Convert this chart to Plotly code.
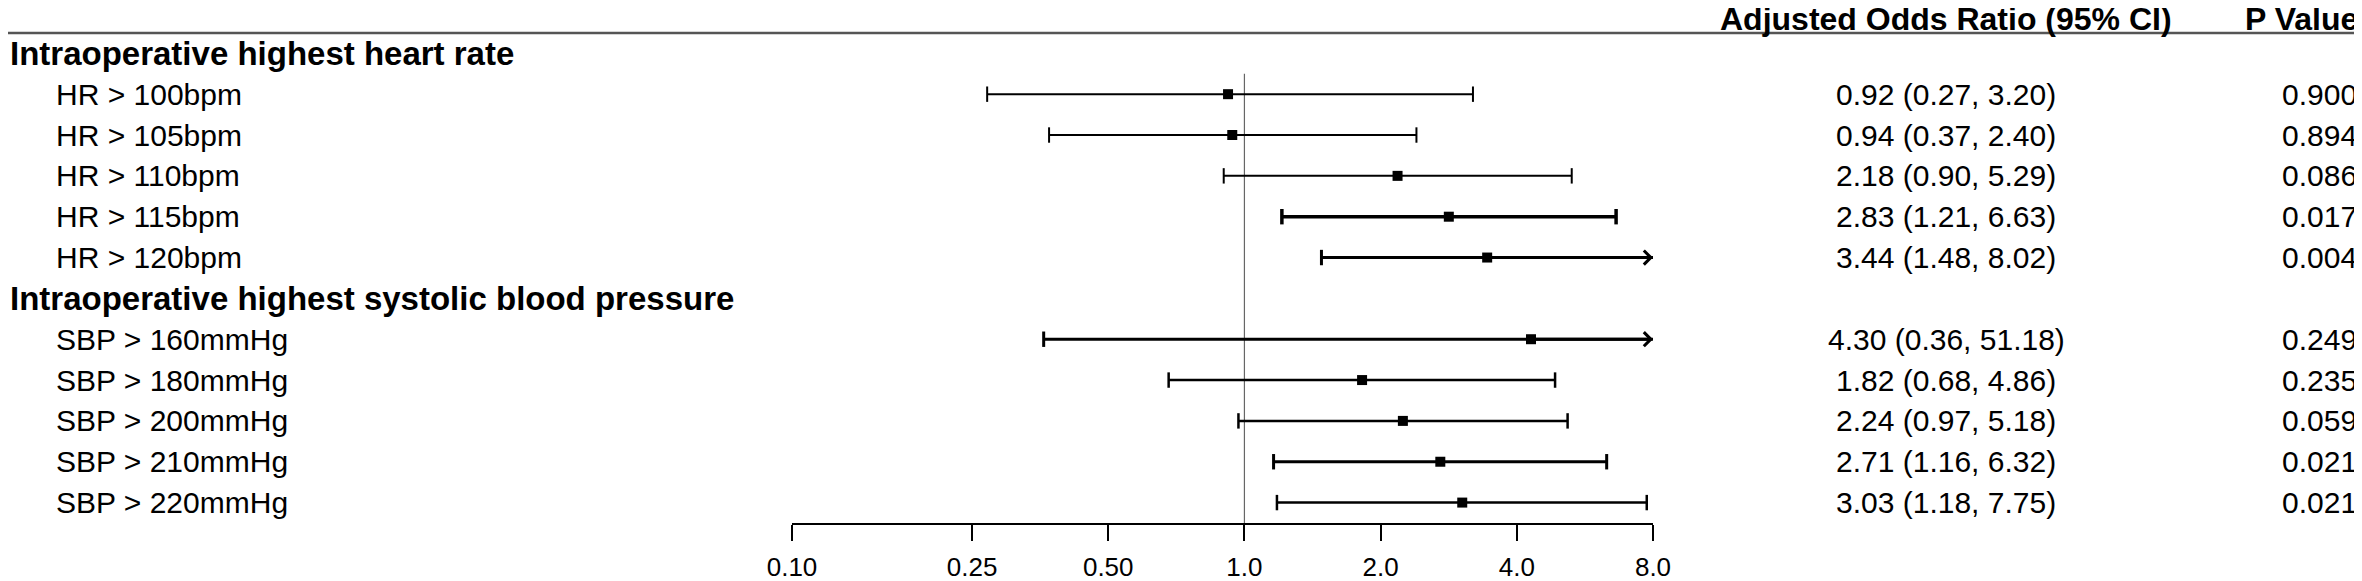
import numpy as np
import plotly.graph_objects as go

# groups and their subgroup labels
group_hr = 'Intraoperative highest heart rate'
group_sbp = 'Intraoperative highest systolic blood pressure'
hr_labels = ['HR > 100bpm', 'HR > 105bpm', 'HR > 110bpm', 'HR > 115bpm', 'HR > 120bpm']
sbp_labels = ['SBP > 160mmHg', 'SBP > 180mmHg', 'SBP > 200mmHg', 'SBP > 210mmHg', 'SBP > 220mmHg']

# adjusted odds ratios with 95% CI
hr_or = [0.92, 0.94, 2.18, 2.83, 3.44]
hr_lo = [0.27, 0.37, 0.90, 1.21, 1.48]
hr_hi = [3.20, 2.40, 5.29, 6.63, 8.02]
hr_p = [0.900, 0.894, 0.086, 0.017, 0.004]

sbp_or = [4.30, 1.82, 2.24, 2.71, 3.03]
sbp_lo = [0.36, 0.68, 0.97, 1.16, 1.18]
sbp_hi = [51.18, 4.86, 5.18, 6.32, 7.75]
sbp_p = [0.249, 0.235, 0.059, 0.021, 0.021]

tick_vals = [0.10, 0.25, 0.50, 1.0, 2.0, 4.0, 8.0]
tick_text = ['0.10', '0.25', '0.50', '1.0', '2.0', '4.0', '8.0']
x_min, x_max = 0.10, 8.0

# row layout: header, 5 rows, header, 5 rows (row 0 holds the column titles)
labels = hr_labels + sbp_labels
est = hr_or + sbp_or
lo = hr_lo + sbp_lo
hi = hr_hi + sbp_hi
pvals = hr_p + sbp_p
rows = [2, 3, 4, 5, 6, 8, 9, 10, 11, 12]
header_rows = [1, 7]
line_w = [2, 2, 2, 3.5, 3, 3, 2.5, 2.5, 3, 2.5]

W, H = 2362, 581
OFF = 8  # the page body adds an 8px margin
FONT = 'Liberation Sans, Arial, sans-serif'
row_h = 40.88


def px(x):
    # page pixel -> paper fraction
    return (x - OFF) / W


def row_at(fig_y):
    # figure pixel (from top) -> row units
    return (fig_y - (12.5 - OFF)) / row_h


fig = go.Figure()

# reference line at OR = 1
fig.add_trace(go.Scatter(x=[1, 1], y=[1.5, 12.5], mode='lines',
                         line=dict(color='#666666', width=1.2),
                         hoverinfo='skip', showlegend=False))

annotations = []
for i, r in enumerate(rows):
    top = min(hi[i], x_max)
    lw = line_w[i]
    fig.add_trace(go.Scatter(x=[lo[i], top], y=[r, r], mode='lines',
                             line=dict(color='black', width=lw),
                             hoverinfo='skip', showlegend=False))
    caps = [lo[i]] if hi[i] > x_max else [lo[i], hi[i]]
    fig.add_trace(go.Scatter(x=caps, y=[r] * len(caps), mode='markers',
                             marker=dict(symbol='line-ns', size=11,
                                         line=dict(color='black', width=lw)),
                             hoverinfo='skip', showlegend=False))
    if hi[i] > x_max:
        annotations.append(dict(x=np.log10(x_max), y=r, ax=np.log10(est[i]), ay=r,
                                xref='x', yref='y', axref='x', ayref='y',
                                showarrow=True, arrowhead=4, arrowwidth=lw,
                                arrowsize=0.9, arrowcolor='black', text=''))

fig.add_trace(go.Scatter(x=est, y=rows, mode='markers',
                         marker=dict(symbol='square', size=10, color='black'),
                         showlegend=False))

# text columns
for name, r in zip([group_hr, group_sbp], header_rows):
    annotations.append(dict(x=0, y=r, xref='paper', yref='y', text='<b>%s</b>' % name,
                            showarrow=False, xanchor='left', yanchor='middle',
                            font=dict(size=33, color='black', family=FONT)))
for i, r in enumerate(rows):
    annotations.append(dict(x=px(54), y=r, xref='paper', yref='y', text=labels[i],
                            showarrow=False, xanchor='left', yanchor='middle',
                            font=dict(size=30, color='black', family=FONT)))
    annotations.append(dict(x=px(1946), y=r, xref='paper', yref='y',
                            text='%.2f (%.2f, %.2f)' % (est[i], lo[i], hi[i]),
                            showarrow=False, xanchor='center', yanchor='middle',
                            font=dict(size=30, color='black', family=FONT)))
    annotations.append(dict(x=px(2359), y=r, xref='paper', yref='y',
                            text='%.3f' % pvals[i],
                            showarrow=False, xanchor='right', yanchor='middle',
                            font=dict(size=30, color='black', family=FONT)))

# column titles sit as high as the figure allows
title_row = row_at(11.5)
annotations.append(dict(x=px(1946), y=title_row, xref='paper', yref='y',
                        text='<b>Adjusted Odds Ratio (95% CI)</b>',
                        showarrow=False, xanchor='center', yanchor='middle',
                        font=dict(size=32, color='black', family=FONT)))
annotations.append(dict(x=px(2360), y=title_row, xref='paper', yref='y',
                        text='<b>P Value</b>',
                        showarrow=False, xanchor='right', yanchor='middle',
                        font=dict(size=32, color='black', family=FONT)))

# rows sit 40.88px apart, row 0 at page y=12.5, axis line at row 12.5
axis_y = 12.5 + row_h * 12.5 - OFF
fig.update_layout(
    template='none',
    width=W, height=H,
    margin=dict(l=0, r=0, t=0, b=H - axis_y, pad=0, autoexpand=False),
    paper_bgcolor='white', plot_bgcolor='white',
    annotations=annotations,
    shapes=[dict(type='line', xref='paper', yref='y', x0=0, x1=1, y0=0.5, y1=0.5,
                 line=dict(color='#555555', width=2.5))],
    xaxis=dict(type='log', range=[np.log10(x_min), np.log10(x_max)],
               domain=[px(792), px(1653)], automargin=False,
               tickvals=tick_vals, ticktext=tick_text,
               showline=True, linecolor='black', linewidth=2,
               ticks='outside', ticklen=16, tickwidth=2, tickcolor='black',
               showgrid=False, zeroline=False, ticklabelstandoff=4,
               tickfont=dict(size=26, color='black', family=FONT)),
    yaxis=dict(range=[12.5, row_at(0)], visible=False, showgrid=False,
               automargin=False),
)

fig.write_html('out.html')
